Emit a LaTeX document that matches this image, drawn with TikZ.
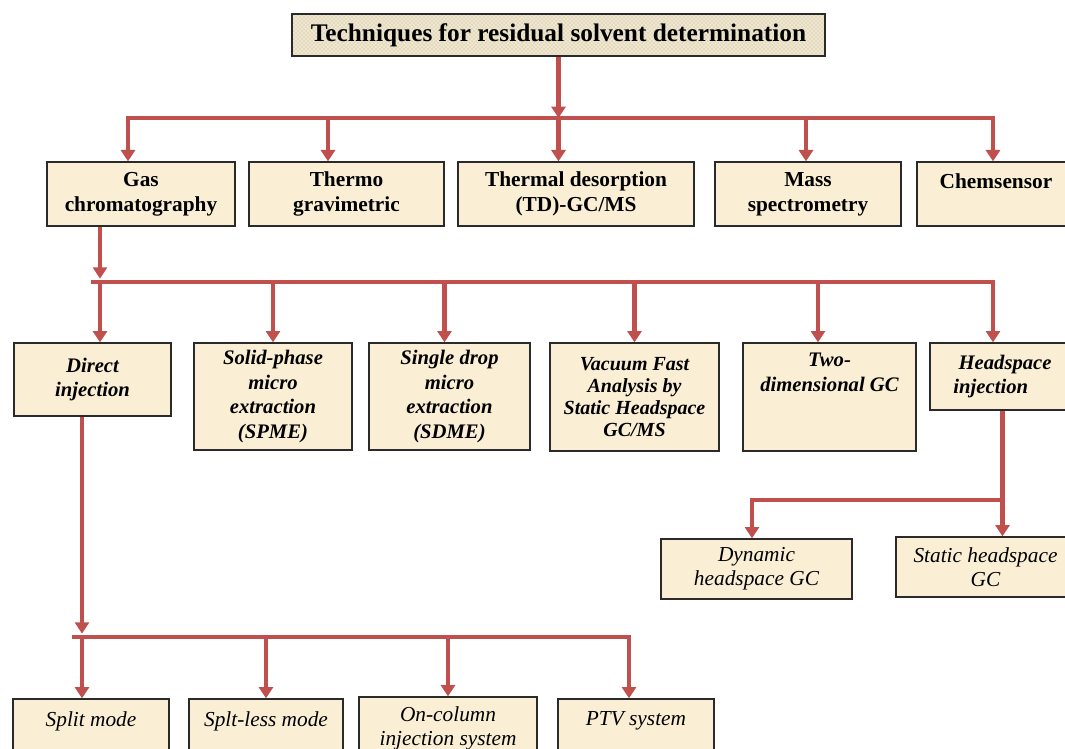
\documentclass[tikz,border=0pt]{standalone}
\usepackage{fontspec}
\setmainfont{Liberation Serif}
\usepackage{xcolor}
\usepackage{tikz}
\usetikzlibrary{arrows.meta, patterns, calc}
\definecolor{linkred}{HTML}{C0504D}
\definecolor{parchment}{HTML}{FAEFD5}
\definecolor{titlebg}{HTML}{F1E7CB}
\definecolor{edgegray}{HTML}{2A2A2A}

\begin{document}
\begin{tikzpicture}[x=0.75pt, y=-0.75pt,
    sz/.style 2 args={minimum width=#1*0.75pt, minimum height=#2*0.75pt},
    box/.style={draw=edgegray, line width=1pt, fill=parchment, align=center, inner sep=2pt},
    titlebox/.style={draw=edgegray, line width=1.5pt, preaction={fill=titlebg},
        pattern=crosshatch dots, pattern color=black!30, inner sep=2pt,
        font=\fontsize{19}{22}\selectfont\bfseries},
    mainbox/.style={box, font=\fontsize{16}{18.75}\selectfont\bfseries},
    subbox/.style={box, font=\fontsize{15.5}{18.5}\selectfont\bfseries\itshape},
    leafbox/.style={box, font=\fontsize{16}{18}\selectfont\itshape},
    arr/.style={-{Triangle[length=8.5pt,width=10.5pt]}, line width=3.2pt, linkred},
    bar/.style={line width=3.2pt, linkred, line cap=rect},
]
\useasboundingbox (0,0) rectangle (1065,749);
\clip (0,0) rectangle (1065,749);

\node[titlebox, sz={533}{42}] (title) at (558.5,35) {Techniques for residual solvent determination};

\node[mainbox, sz={188}{64}] (gas)     at (141,194)   {Gas\\chromatography};
\node[mainbox, sz={195}{64}] (thermo)  at (346.5,194) {Thermo\\gravimetric};
\node[mainbox, sz={236}{64}] (thermal) at (576,194)   {Thermal desorption\\(TD)-GC/MS};
\node[mainbox, sz={186}{64}] (mass)    at (808,194)   {Mass\\spectrometry};
\node[mainbox, sz={158}{64}] (chem)    at (996,194)   {Chemsensor\\~};

\node[subbox, sz={157}{73}]  (direct) at (92.5,379.5) {Direct\\injection};
\node[subbox, sz={158}{107}] (spme)   at (273,396.5)  {Solid-phase\\micro\\extraction\\(SPME)};
\node[subbox, sz={161}{107}] (sdme)   at (449.5,396.5) {Single drop\\micro\\extraction\\(SDME)};
\node[subbox, sz={169}{108}, font=\fontsize{15}{16.5}\selectfont\bfseries\itshape]
    (vacuum) at (634.5,397) {Vacuum Fast\\Analysis by\\Static Headspace\\GC/MS};
\node[subbox, sz={173}{108}] (twod)   at (829.5,397)  {Two-\\dimensional GC\\~\\~};
\node[subbox, sz={145}{67}, align=left] (head) at (1002.5,376.5) {\ Headspace\\injection};

\node[leafbox, sz={191}{60}] (dyn)  at (756.5,569) {Dynamic\\headspace GC};
\node[leafbox, sz={179}{60}] (stat) at (985.5,567) {Static headspace\\GC};

\node[leafbox, sz={156}{64}] (split)    at (91,731)  {Split mode\\~};
\node[leafbox, sz={154}{64}] (spltless) at (266,731) {Splt-less mode\\~};
\node[leafbox, sz={178}{62}] (oncol)    at (448,728) {On-column\\injection system};
\node[leafbox, sz={156}{64}] (ptv)      at (636,731) {PTV system\\~};

\coordinate (t1l) at (128,118);
\coordinate (t1r) at (993,118);
\coordinate (t1b) at (328,118);
\coordinate (t1d) at (806,118);
\draw[bar] (t1l) -- (t1r);
\draw[arr] (title.south) -- (title.south |- t1l);
\draw[arr] (t1l) -- (t1l |- gas.north);
\draw[arr] (t1b) -- (t1b |- thermo.north);
\draw[arr] (title.south |- t1l) -- (title.south |- thermal.north);
\draw[arr] (t1d) -- (t1d |- mass.north);
\draw[arr] (t1r) -- (t1r |- chem.north);

\coordinate (t2l) at (93,282);
\coordinate (t2r) at (993,282);
\coordinate (g2) at (100,282);
\coordinate (w2) at (818,282);
\draw[bar] (t2l) -- (t2r);
\draw[arr, shorten >=2.5pt] (g2 |- gas.south) -- (g2);
\draw[arr] (g2) -- (g2 |- direct.north);
\draw[arr] (spme.north |- t2l) -- (spme.north);
\draw[arr] ($(sdme.north |- t2l)+(-5,0)$) -- ($(sdme.north)+(-5,0)$);
\draw[arr] (vacuum.north |- t2l) -- (vacuum.north);
\draw[arr] (w2) -- (w2 |- twod.north);
\draw[arr] (t2r) -- (t2r |- head.north);

\coordinate (h3l) at (752,500);
\draw[arr] (head.south) -- (head.south |- stat.north);
\draw[arr] (head.south |- h3l) -- (h3l) -- (h3l |- dyn.north);

\coordinate (d4) at (82,637);
\coordinate (b4l) at (74,637);
\coordinate (b4r) at (629,637);
\draw[bar] (b4l) -- (b4r);
\draw[arr, shorten >=2.5pt] (d4 |- direct.south) -- (d4);
\draw[arr] (d4) -- (d4 |- split.north);
\draw[arr] (spltless.north |- b4l) -- (spltless.north);
\draw[arr] (oncol.north |- b4l) -- (oncol.north);
\draw[arr] (b4r) -- (b4r |- ptv.north);
\end{tikzpicture}
\end{document}
